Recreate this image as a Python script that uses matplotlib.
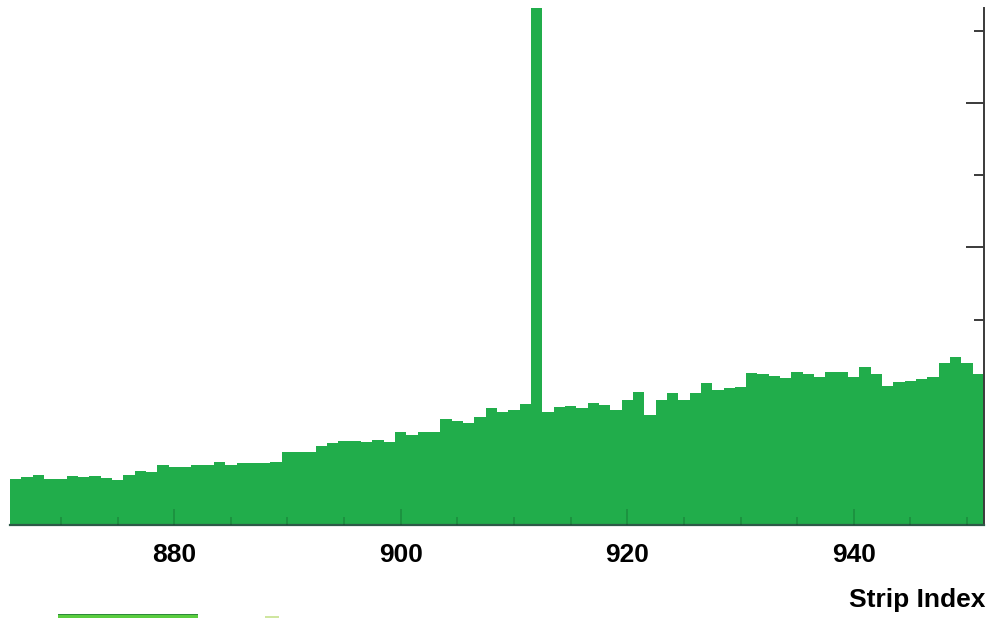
import numpy as np
import matplotlib
matplotlib.use("Agg")
import matplotlib.pyplot as plt
from matplotlib.ticker import MultipleLocator
from matplotlib.patches import Rectangle

# Strip indices (one bin per strip) and the counts recorded in each strip
strips = list(range(866, 952))
counts = [
    398, 412, 426, 398, 398, 419, 412, 419, 405, 391,   # 866-875
    426, 453, 446, 495, 481, 481, 495, 495, 516, 495,   # 876-885
    509, 509, 509, 516, 585, 585, 585, 626, 647, 661,   # 886-895
    661, 654, 668, 654, 723, 702, 723, 723, 813, 799,   # 896-905
    785, 827, 889, 862, 875, 917, 3900, 862, 896, 903,  # 906-915
    889, 924, 910, 875, 945, 1000, 841, 945, 993, 945,  # 916-925
    993, 1062, 1014, 1028, 1035, 1131, 1125, 1111, 1097, 1138,  # 926-935
    1125, 1104, 1138, 1138, 1104, 1173, 1125, 1042, 1069, 1076,  # 936-945
    1090, 1104, 1201, 1242, 1201, 1125,                 # 946-951
]
x_tick_labels = ["880", "900", "920", "940"]
x_title = "Strip Index"

GREEN = "#21ad4b"
W, H = 989, 618

fig = plt.figure(figsize=(W / 100, H / 100), dpi=100)
fig.patch.set_facecolor("white")

# frame in pixel units: left 10, right 984, bottom 525, top 8
ax = fig.add_axes([10 / W, (H - 525) / H, 974 / W, (525 - 8) / H])
ax.set_facecolor("white")

edges = np.append(np.array(strips) - 0.5, strips[-1] + 0.5)
ax.stairs(counts, edges, fill=True, baseline=0, color=GREEN, linewidth=0,
          zorder=2)

ax.set_xlim(edges[0], edges[-1])
ax.set_ylim(80, 3657)

# x axis: labelled ticks every 20 strips, minor ticks every 5, drawn inward
ax.xaxis.set_major_locator(MultipleLocator(20))
ax.xaxis.set_minor_locator(MultipleLocator(5))
ax.set_xticks([int(t) for t in x_tick_labels])
ax.set_xticklabels(x_tick_labels, fontfamily="Liberation Sans",
                   fontweight="bold", fontsize=19)
ax.tick_params(axis="x", which="both", direction="in",
               color=(0.05, 0.25, 0.12, 0.28), width=1.2, pad=13)
ax.tick_params(axis="x", which="major", length=11.5)
ax.tick_params(axis="x", which="minor", length=5.5)

# y axis drawn on the right-hand side, without labels; the histogram
# covers the ticks that fall inside it
ax.yaxis.tick_right()
ax.yaxis.set_major_locator(MultipleLocator(1000))
ax.yaxis.set_minor_locator(MultipleLocator(500))
ax.tick_params(axis="y", which="both", direction="in", labelright=False,
               labelleft=False, color="#3a3a3a", width=1.4)
ax.tick_params(axis="y", which="major", length=13)
ax.tick_params(axis="y", which="minor", length=7)
ax.yaxis.set_zorder(1.5)
ax.xaxis.set_zorder(3)

for side in ("left", "top"):
    ax.spines[side].set_visible(False)
ax.spines["right"].set_color("#3a3a3a")
ax.spines["right"].set_linewidth(1.4)
ax.spines["bottom"].set_color("#2d5a48")
ax.spines["bottom"].set_linewidth(1.6)

fig.text(985 / W, 1 - 600 / H, x_title, ha="right", va="center",
         fontfamily="Liberation Sans", fontweight="bold", fontsize=19,
         color="black")

# legend swatches along the bottom edge
fig.patches.append(Rectangle((58 / W, 0), 140 / W, 4 / H,
                             transform=fig.transFigure,
                             facecolor="#5acd3f", edgecolor="none"))
fig.patches.append(Rectangle((58 / W, 3.2 / H), 140 / W, 1 / H,
                             transform=fig.transFigure,
                             facecolor="#2e8a3a", edgecolor="none"))
fig.patches.append(Rectangle((265 / W, 0), 14 / W, 2.5 / H,
                             transform=fig.transFigure,
                             facecolor="#cfe6a0", edgecolor="none"))

fig.savefig("out.png", dpi=100, facecolor="white")
